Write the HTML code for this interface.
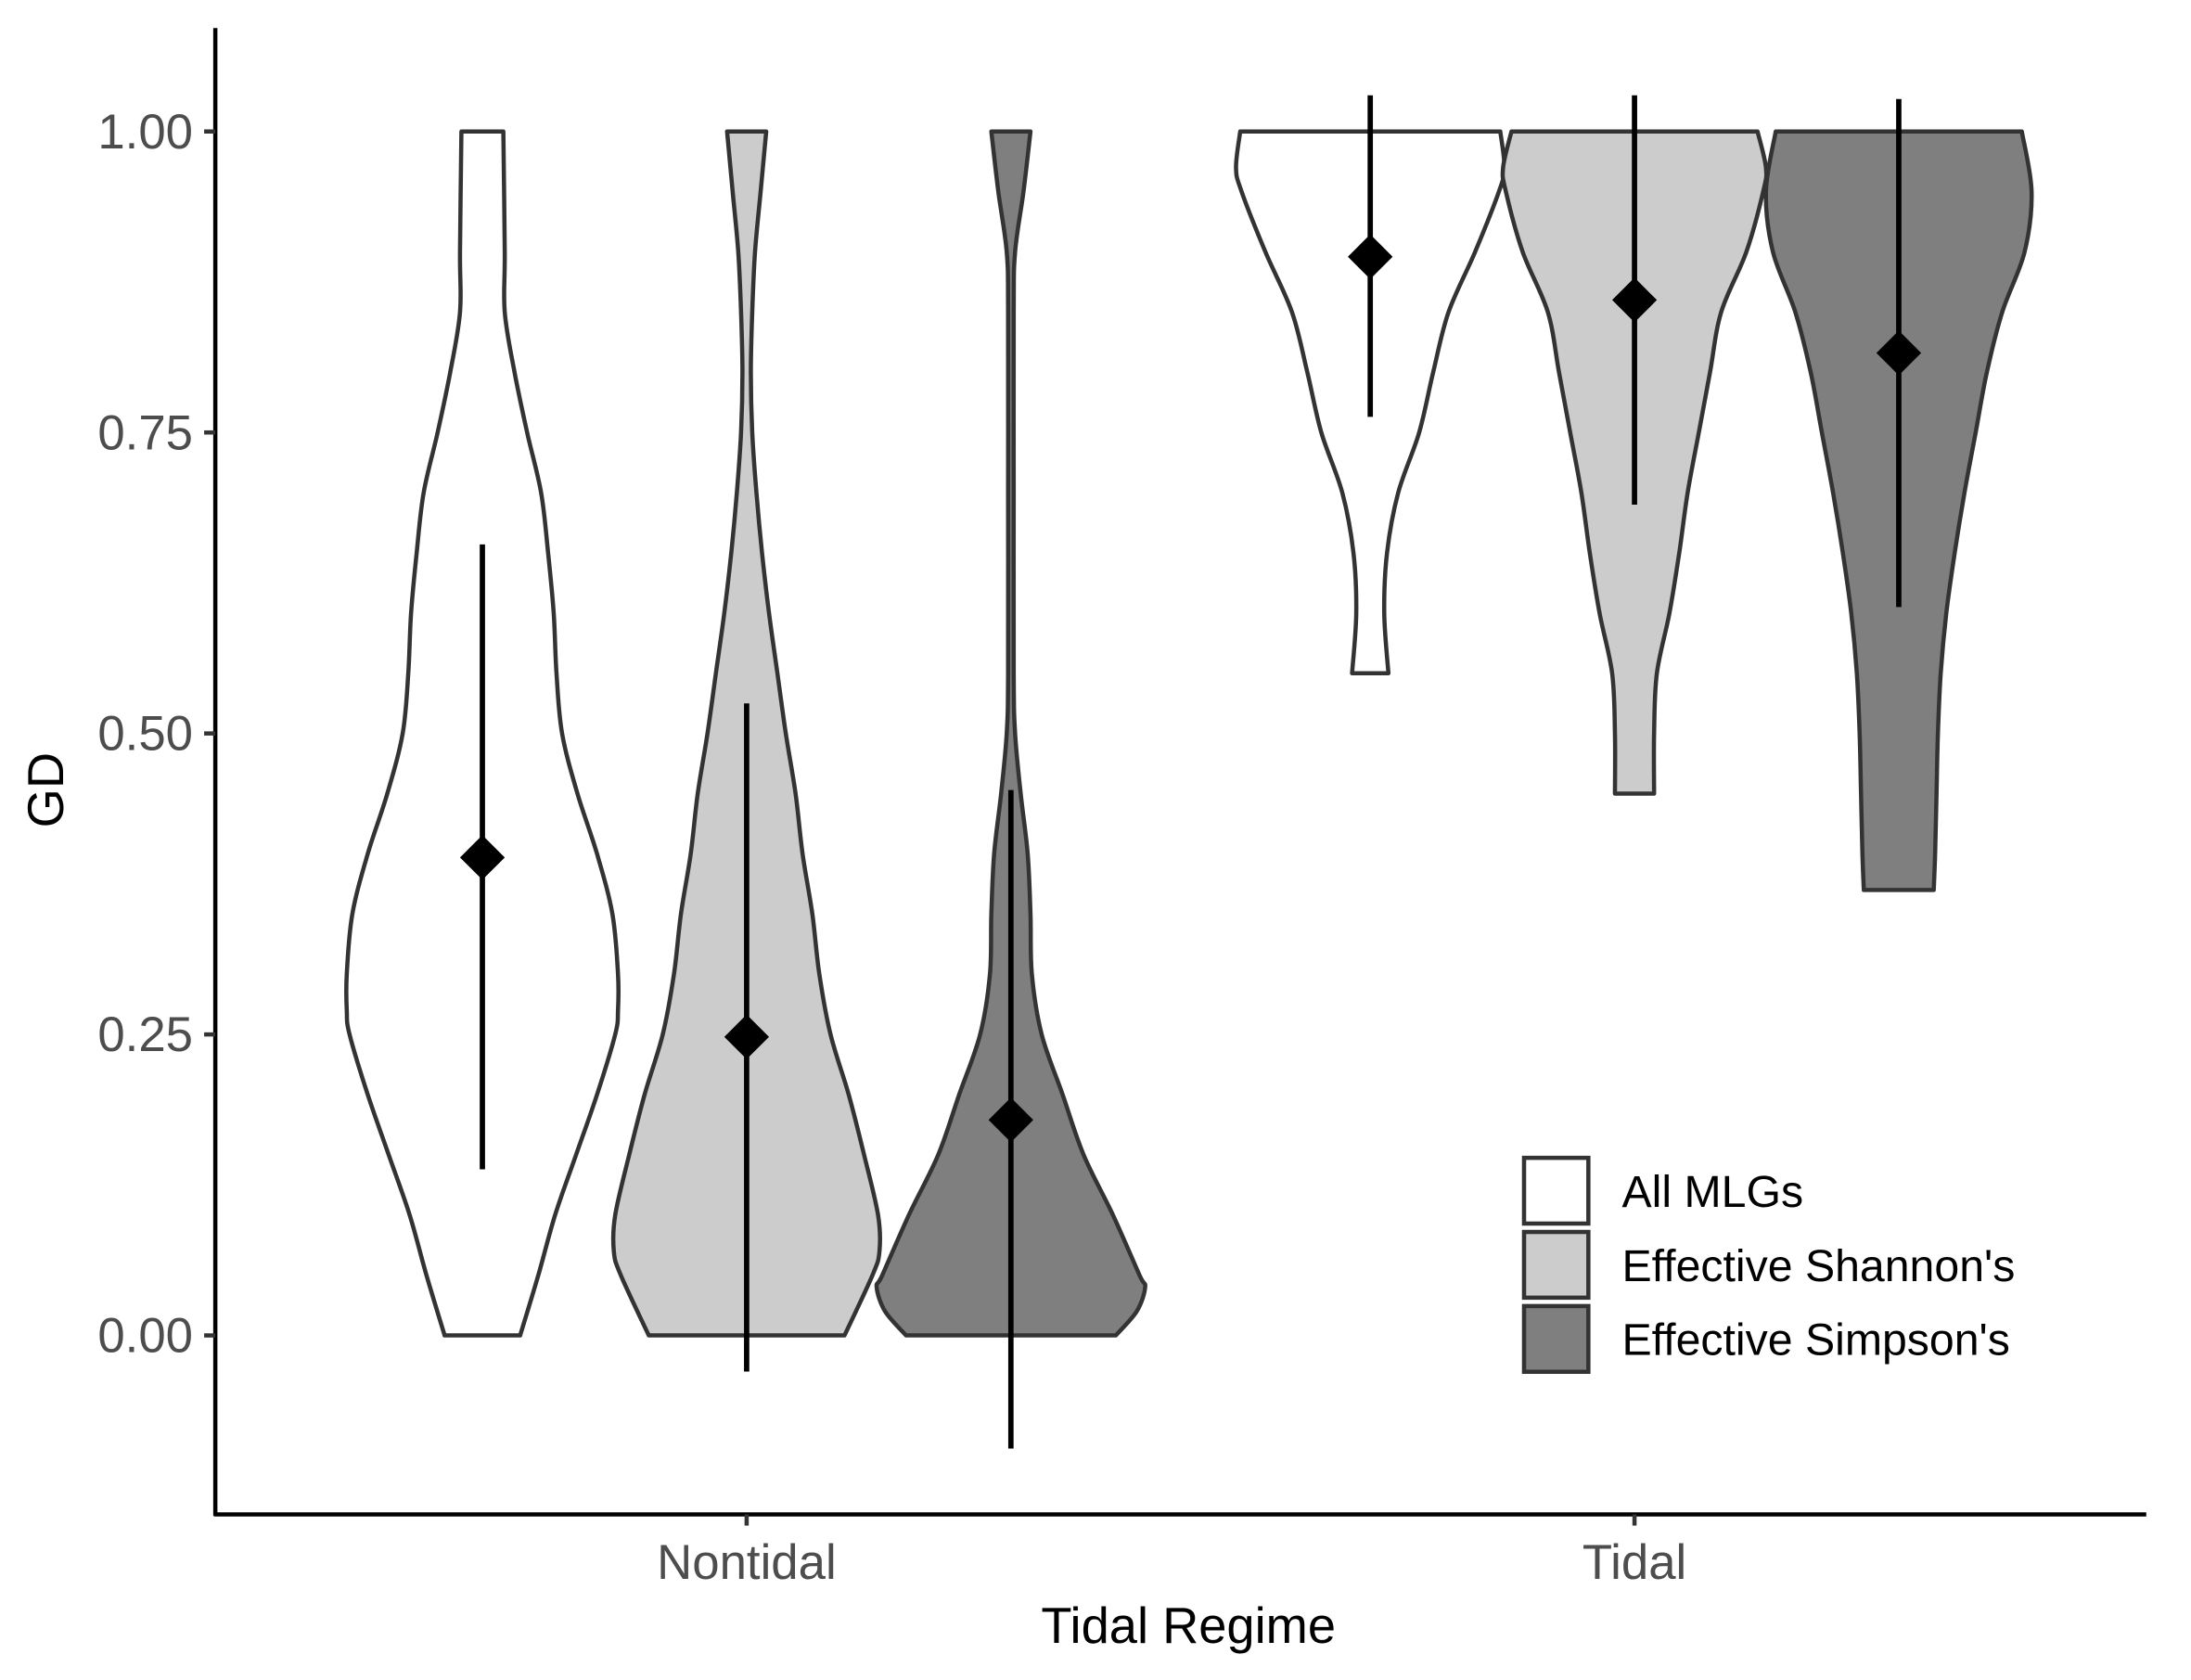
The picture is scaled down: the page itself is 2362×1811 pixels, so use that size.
<!DOCTYPE html>
<html><head><meta charset="utf-8"><style>
html,body{margin:0;padding:0;background:#fff;}
svg{display:block;font-family:"Liberation Sans",sans-serif;}
</style></head><body>
<svg id="chart" width="2362" height="1811" viewBox="0 0 1567 1201.4" xmlns="http://www.w3.org/2000/svg">
<g id="plot"></g>
<g id="axes"></g>
<g id="legend"></g>
</svg>
<script>
const categories = ["Nontidal", "Tidal"];
const seriesNames = ["All MLGs", "Effective Shannon's", "Effective Simpson's"];
const seriesFills = ["#ffffff", "#cccccc", "#7f7f7f"];
const yTicks = [0, 0.25, 0.5, 0.75, 1.0];
const yTickLabels = ["0.00", "0.25", "0.50", "0.75", "1.00"];
// violin profiles: [value, half-width density]
const vNtAll = [[1,15],[0.9,16],[0.85,16],[0.8,23],[0.75,32],[0.7,42],[0.65,47],[0.6,51],[0.55,53],[0.5,57],[0.45,68],[0.4,82],[0.35,93],[0.3,97],[0.27,97],[0.25,95],[0.2,82],[0.15,67],[0.1,52],[0.05,40],[0,27]];
const vNtSh = [[1,14],[0.95,10],[0.9,6],[0.85,4],[0.8,3],[0.75,4],[0.7,7],[0.65,11],[0.6,16],[0.55,22],[0.5,28],[0.45,35],[0.4,40],[0.35,47],[0.3,52],[0.25,60],[0.2,73],[0.15,84],[0.1,94],[0.07,95],[0.05,90],[0,70]];
const vNtSi = [[1,14],[0.95,9],[0.9,3],[0.85,2],[0.7,2],[0.55,2],[0.5,3],[0.45,7],[0.4,12],[0.35,14],[0.3,15],[0.25,22],[0.2,37],[0.15,52],[0.1,73],[0.05,92],[0.04,96],[0.02,90],[0,75]];
const vTAll = [[1,93],[0.97,96],[0.95,92],[0.9,75],[0.85,56],[0.8,45],[0.75,35],[0.7,20],[0.65,12],[0.6,10],[0.55,13]];
const vTSh = [[1,88],[0.97,94],[0.95,92],[0.9,80],[0.85,62],[0.8,54],[0.75,46],[0.7,38],[0.65,32],[0.6,25],[0.55,16],[0.5,14],[0.45,14]];
const vTSi = [[1,88],[0.95,95],[0.9,90],[0.85,74],[0.8,63],[0.75,55],[0.7,47],[0.65,40],[0.6,34],[0.55,30],[0.5,28],[0.45,27],[0.4,26],[0.37,25]];
const means = [0.397, 0.248, 0.179, 0.896, 0.86, 0.816];
const errLow = [0.138, -0.03, -0.094, 0.763, 0.69, 0.605];
const errHigh = [0.657, 0.525, 0.453, 1.03, 1.03, 1.027];

const NS="http://www.w3.org/2000/svg";
function y(v){return 955-861*v;}
function xc(ci,si){return [534,1169][ci]+(si-1)*189;}
function mk(tag,attrs,parent){const e=document.createElementNS(NS,tag);for(const k in attrs)e.setAttribute(k,attrs[k]);parent.appendChild(e);return e;}
function smooth(pts){let d="";for(let i=0;i<pts.length-1;i++){const p0=pts[Math.max(i-1,0)],p1=pts[i],p2=pts[i+1],p3=pts[Math.min(i+2,pts.length-1)];
const c1=[p1[0]+(p2[0]-p0[0])/6,p1[1]+(p2[1]-p0[1])/6],c2=[p2[0]-(p3[0]-p1[0])/6,p2[1]-(p3[1]-p1[1])/6];
d+=` C${c1[0]},${c1[1]} ${c2[0]},${c2[1]} ${p2[0]},${p2[1]}`;}return d;}
const plot=document.getElementById('plot');
const violins=[vNtAll,vNtSh,vNtSi,vTAll,vTSh,vTSi];
violins.forEach((prof,k)=>{
 const ci=Math.floor(k/3),si=k%3,cx=xc(ci,si);
 const right=prof.map(p=>[cx+p[1],y(p[0])]);
 const left=prof.slice().reverse().map(p=>[cx-p[1],y(p[0])]);
 let d=`M${left[left.length-1][0]},${left[left.length-1][1]} L${right[0][0]},${right[0][1]}`+smooth(right)+` L${left[0][0]},${left[0][1]}`+smooth(left)+" Z";
 const el=mk('path',{d:d,fill:seriesFills[si],stroke:"#333333","stroke-width":3,"stroke-linejoin":"round"},plot);
 
 
});
means.forEach((m,k)=>{
 const ci=Math.floor(k/3),si=k%3,cx=xc(ci,si);
 const ln=mk('line',{x1:cx,x2:cx,y1:y(errLow[k]),y2:y(errHigh[k]),stroke:"#000","stroke-width":3.8},plot);
 
 
 const my=y(m);
 const dm=mk('polygon',{points:`${cx-16},${my} ${cx},${my-16} ${cx+16},${my} ${cx},${my+16}`,fill:"#000"},plot);
 
 
});
const axes=document.getElementById('axes');
mk('line',{x1:154,x2:154,y1:20,y2:1084,stroke:"#000","stroke-width":3},axes);
mk('line',{x1:153,x2:1535,y1:1083,y2:1083,stroke:"#000","stroke-width":3},axes);
yTicks.forEach((t,i)=>{
 const tk=mk('line',{x1:146,x2:154,y1:y(t),y2:y(t),stroke:"#333","stroke-width":3},axes);
 
 
 const tx=mk('text',{x:138,y:y(t)+12,"text-anchor":"end","font-size":35,fill:"#4d4d4d"},axes);
 tx.textContent=yTickLabels[i];
 
 
});
categories.forEach((c,i)=>{
 const cx=xc(i,1);
 const tk=mk('line',{x1:cx,x2:cx,y1:1083,y2:1091,stroke:"#333","stroke-width":3},axes);
 
 
 const tx=mk('text',{x:cx,y:1129,"text-anchor":"middle","font-size":35,fill:"#4d4d4d"},axes);
 tx.textContent=c;
 
 
});
const xt=mk('text',{x:850,y:1175,"text-anchor":"middle","font-size":36,fill:"#000"},axes);
xt.textContent="Tidal Regime";


const yt=mk('text',{x:0,y:0,"text-anchor":"middle","font-size":36,fill:"#000",transform:"translate(45,565) rotate(-90)"},axes);
yt.textContent="GD";


const legend=document.getElementById('legend');
seriesNames.forEach((n,i)=>{
 const by=828+i*53;
 const r=mk('rect',{x:1090,y:by,width:46,height:47,fill:seriesFills[i],stroke:"#333","stroke-width":3},legend);
 
 
 const t=mk('text',{x:1160,y:by+35,"font-size":32,fill:"#000"},legend);
 t.textContent=n;
 
 
});
</script>
</body></html>
